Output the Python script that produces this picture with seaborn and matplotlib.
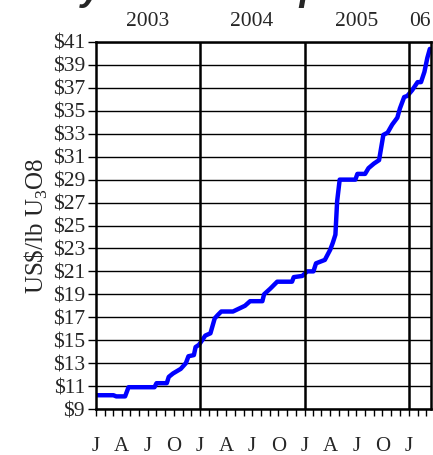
import pandas as pd
import numpy as np
import matplotlib
matplotlib.use("Agg")
import matplotlib.pyplot as plt
import matplotlib.dates as mdates
import matplotlib.transforms as mtransforms
import seaborn as sns

# weekly spot price
dates = ["2003-01-01", "2003-03-03", "2003-03-13", "2003-04-13", "2003-04-25",
         "2003-07-25", "2003-08-01", "2003-09-06", "2003-09-13", "2003-09-28",
         "2003-10-25", "2003-11-12", "2003-11-21", "2003-12-10", "2003-12-16",
         "2003-12-28", "2004-01-19", "2004-02-06", "2004-02-21", "2004-03-03",
         "2004-03-15", "2004-04-25", "2004-06-06", "2004-06-24", "2004-08-06",
         "2004-08-12", "2004-09-03", "2004-09-27", "2004-11-18", "2004-11-24",
         "2004-12-24", "2005-01-10", "2005-02-01", "2005-02-10", "2005-03-13",
         "2005-04-01", "2005-04-10", "2005-04-19", "2005-04-25", "2005-05-04",
         "2005-06-28", "2005-07-05", "2005-08-01", "2005-08-13", "2005-09-01",
         "2005-09-19", "2005-10-04", "2005-10-19", "2005-11-04", "2005-11-22",
         "2005-12-01", "2005-12-16", "2005-12-27", "2006-01-13", "2006-02-01",
         "2006-02-13", "2006-02-25", "2006-03-07", "2006-03-16"]
prices = [10.20, 10.20, 10.10, 10.10, 10.90,
          10.90, 11.25, 11.25, 11.80, 12.10,
          12.50, 13.00, 13.60, 13.70, 14.40,
          14.60, 15.40, 15.60, 16.90, 17.20,
          17.50, 17.50, 18.00, 18.40, 18.40,
          19.00, 19.50, 20.10, 20.10, 20.50,
          20.60, 21.00, 21.00, 21.70, 22.00,
          22.90, 23.50, 24.20, 27.10, 29.00,
          29.00, 29.50, 29.50, 30.00, 30.40,
          30.70, 32.90, 33.10, 33.80, 34.40,
          35.20, 36.20, 36.30, 36.80, 37.50,
          37.50, 38.40, 39.60, 40.40]

year_labels = ["2003", "2004", "2005", "06"]
year_label_pos = ["2003-07-01", "2004-07-01", "2005-07-01", "2006-02-09"]
year_lines = ["2004-01-01", "2005-01-01", "2006-01-01"]
y_ticks = list(range(9, 42, 2))

df = pd.DataFrame({"date": pd.to_datetime(dates), "price": prices})

sns.set_style("white")
plt.rcParams["font.family"] = "serif"
plt.rcParams["font.serif"] = ["Liberation Serif", "Times New Roman", "DejaVu Serif"]
plt.rcParams["mathtext.fontset"] = "custom"
plt.rcParams["mathtext.rm"] = "Liberation Serif"

fig = plt.figure(figsize=(4.33, 4.55), dpi=100)
ax = fig.add_axes([96 / 433, 1 - 409 / 455, 335 / 433, 367 / 455])

sns.lineplot(data=df, x="date", y="price", ax=ax, color="#0000ff", lw=3.2)

ax.set_xlim(pd.Timestamp("2003-01-01"), pd.Timestamp("2006-03-20"))
ax.set_ylim(9, 41)
ax.set_yticks(y_ticks)
ax.set_yticklabels([f"${v}" for v in y_ticks], fontsize=15.5)
ax.yaxis.grid(True, color="black", lw=1)
for d in year_lines:
    ax.axvline(pd.Timestamp(d), color="black", lw=1.8)

# month ticks, quarter initials as labels
ax.xaxis.set_major_locator(mdates.MonthLocator(bymonth=[1, 4, 7, 10]))
ax.xaxis.set_minor_locator(mdates.MonthLocator())
ax.xaxis.set_major_formatter(mdates.DateFormatter("%b"))
ax.set_xticklabels([t.get_text()[0] for t in ax.get_xticklabels()])
ax.tick_params(axis="x", which="both", direction="out", length=5, width=1,
               color="black", bottom=True)
ax.tick_params(axis="x", which="major", labelsize=15, pad=15)
ax.tick_params(axis="y", direction="out", length=6, width=1, color="black",
               left=True, pad=2)

for spine in ax.spines.values():
    spine.set_visible(True)
    spine.set_color("black")
    spine.set_linewidth(1.8)

ax.set_xlabel("")
ax.set_ylabel("US\\$/lb U$_3$O8", fontsize=18, labelpad=2)

trans = mtransforms.blended_transform_factory(ax.transData, ax.transAxes)
for lab, pos in zip(year_labels, year_label_pos):
    ax.text(mdates.date2num(pd.Timestamp(pos)), 1.057, lab, transform=trans,
            ha="center", va="center", fontsize=15.5)

# title sits above the canvas, only its descenders show
fig.text(0.5, 1.0, "Weekly Uranium Spot Price", ha="center",
         va="baseline", fontsize=27, fontweight="bold", fontstyle="italic",
         family="Liberation Sans")

fig.savefig("out.png", dpi=100)
